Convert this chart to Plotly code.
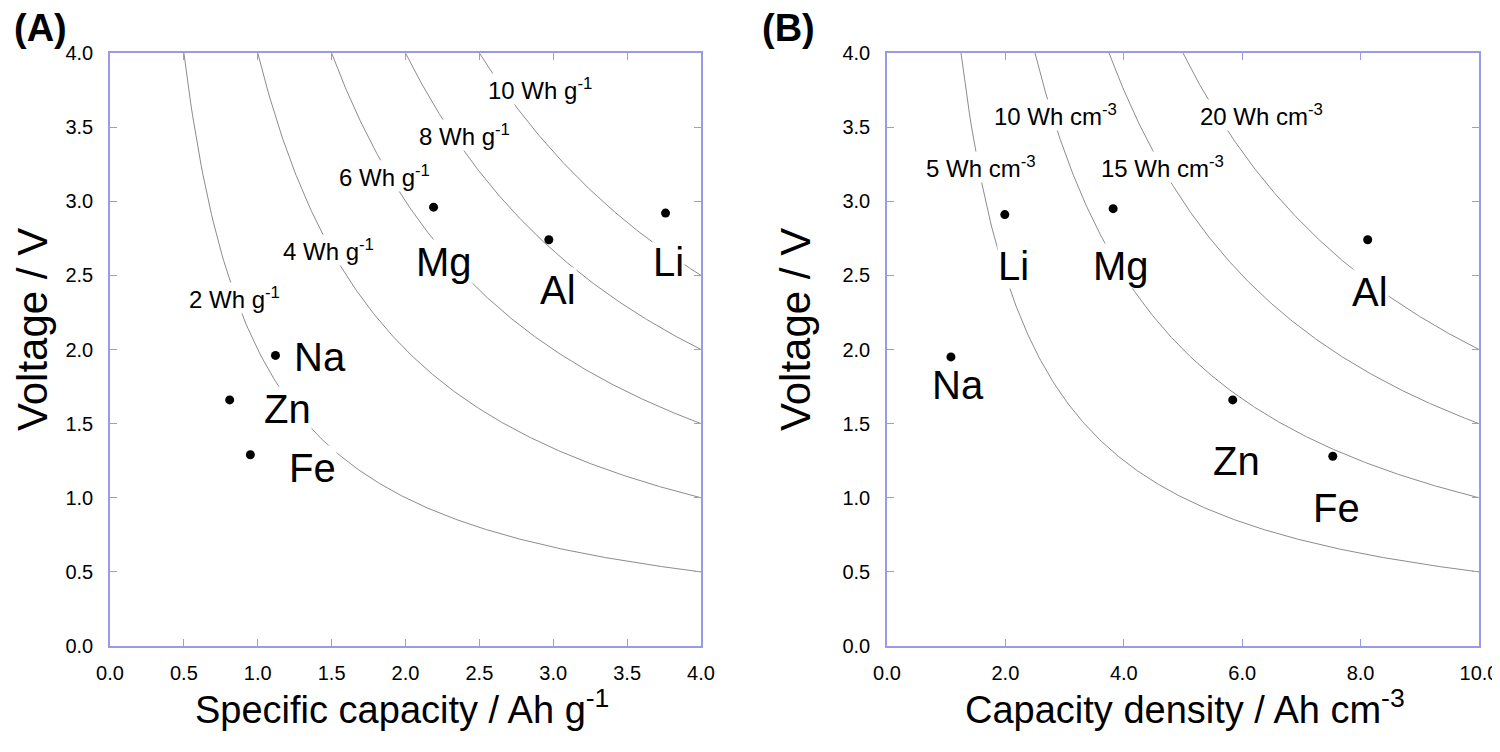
import numpy as np
import plotly.graph_objects as go

# ---------------- data ----------------
elements = ["Li", "Al", "Mg", "Na", "Zn", "Fe"]

# Panel A: specific capacity (Ah/g) vs voltage (V)
spec_cap = [3.76, 2.97, 2.19, 1.12, 0.81, 0.95]
voltage_A = [2.92, 2.74, 2.96, 1.96, 1.66, 1.29]
label_xA = [3.78, 3.03, 2.26, 1.42, 1.20, 1.37]
label_yA = [2.59, 2.40, 2.59, 1.95, 1.60, 1.20]
energy_A = [2, 4, 6, 8, 10]                      # Wh/g iso-lines
energy_lab_xA = [0.84, 1.48, 1.86, 2.40, 2.91]
energy_lab_yA = [2.35, 2.67, 3.17, 3.45, 3.76]

# Panel B: capacity density (Ah/cm3) vs voltage (V)
cap_dens = [1.99, 8.12, 3.82, 1.08, 5.84, 7.53]
voltage_B = [2.91, 2.74, 2.95, 1.95, 1.66, 1.28]
label_xB = [2.13, 8.16, 3.95, 1.20, 5.91, 7.60]
label_yB = [2.56, 2.39, 2.56, 1.76, 1.25, 0.93]
energy_B = [5, 10, 15, 20]                       # Wh/cm3 iso-lines
energy_lab_xB = [1.59, 2.84, 4.66, 6.33]
energy_lab_yB = [3.23, 3.58, 3.23, 3.58]

xmax_A, xmax_B, vmax = 4.0, 10.0, 4.0

# ---------------- figure ----------------
OFF = 8                      # default page margin around the plot div
W, H = 1500 - OFF, 752 - OFF
fig = go.Figure()
LINE = "#8c8c8c"
AX = "#9a9ae8"
FONT = "Liberation Sans, Arial, sans-serif"


def px2x(px):
    return (px - OFF) / W


def py2y(py):
    return 1 - (py - OFF) / H


def add_iso(energies, xmax, xa, ya):
    for e in energies:
        xs = np.linspace(e / vmax, xmax, 300)
        fig.add_trace(go.Scatter(x=xs, y=e / xs, mode="lines", xaxis=xa, yaxis=ya,
                                 line=dict(color=LINE, width=1), showlegend=False,
                                 hoverinfo="skip"))


add_iso(energy_A, xmax_A, "x", "y")
add_iso(energy_B, xmax_B, "x2", "y2")

fig.add_trace(go.Scatter(x=spec_cap, y=voltage_A, mode="markers", xaxis="x", yaxis="y",
                         marker=dict(color="black", size=9), showlegend=False, text=elements))
fig.add_trace(go.Scatter(x=cap_dens, y=voltage_B, mode="markers", xaxis="x2", yaxis="y2",
                         marker=dict(color="black", size=9), showlegend=False, text=elements))

ann = []
common_ann = dict(showarrow=False, xanchor="center", yanchor="middle")
for e, lx, ly in zip(energy_A, energy_lab_xA, energy_lab_yA):
    ann.append(dict(x=lx, y=ly, xref="x", yref="y", text=f"{e} Wh g<sup>-1</sup>",
                    bgcolor="white", borderpad=0,
                    font=dict(size=24, color="black", family=FONT), **common_ann))
for e, lx, ly in zip(energy_B, energy_lab_xB, energy_lab_yB):
    ann.append(dict(x=lx, y=ly, xref="x2", yref="y2", text=f"{e} Wh cm<sup>-3</sup>",
                    bgcolor="white", borderpad=0,
                    font=dict(size=24, color="black", family=FONT), **common_ann))
for el, lx, ly in zip(elements, label_xA, label_yA):
    ann.append(dict(x=lx, y=ly, xref="x", yref="y", text=el,
                    bgcolor="white", borderpad=0,
                    font=dict(size=40, color="black", family=FONT), **common_ann))
for el, lx, ly in zip(elements, label_xB, label_yB):
    ann.append(dict(x=lx, y=ly, xref="x2", yref="y2", text=el,
                    bgcolor="white", borderpad=0,
                    font=dict(size=40, color="black", family=FONT), **common_ann))

for txt, (px, py) in [("<b>(A)</b>", (40, 28)), ("<b>(B)</b>", (788, 28))]:
    ann.append(dict(x=px2x(px), y=py2y(py), xref="paper", yref="paper", text=txt,
                    font=dict(size=38, color="black", family=FONT), **common_ann))

for txt, (px, py) in [("Specific capacity / Ah g<sup>-1</sup>", (402, 707)),
                      ("Capacity density / Ah cm<sup>-3</sup>", (1185, 707))]:
    ann.append(dict(x=px2x(px), y=py2y(py), xref="paper", yref="paper", text=txt,
                    font=dict(size=38, color="black", family=FONT), **common_ann))

for px in (32, 795):
    ann.append(dict(x=px2x(px), y=py2y(330), xref="paper", yref="paper",
                    text="Voltage / V", textangle=-90,
                    font=dict(size=42, color="black", family=FONT), **common_ann))

axis_common = dict(showline=True, linecolor=AX, linewidth=1.5, mirror="ticks",
                   ticks="inside", ticklen=7, tickcolor=AX, tickwidth=1,
                   showgrid=False, zeroline=False, tickformat=".1f", automargin=False,
                   tickfont=dict(size=20, color="black", family=FONT))

ydom = [py2y(646), py2y(53)]
fig.update_layout(
    width=W, height=H, margin=dict(l=0, r=0, t=0, b=0, autoexpand=False),
    plot_bgcolor="white", paper_bgcolor="white", showlegend=False,
    annotations=ann,
    xaxis=dict(domain=[px2x(110), px2x(701)], range=[0, xmax_A], dtick=0.5,
               ticklabelstandoff=8, anchor="y", **axis_common),
    yaxis=dict(domain=ydom, range=[0, vmax], dtick=0.5, ticklabelstandoff=11,
               anchor="x", **axis_common),
    xaxis2=dict(domain=[px2x(887), px2x(1479)], range=[0, xmax_B], dtick=2,
                ticklabelstandoff=8, anchor="y2", **axis_common),
    yaxis2=dict(domain=ydom, range=[0, vmax], dtick=0.5, ticklabelstandoff=11,
                anchor="x2", **axis_common),
)

fig.write_html("out.html")
